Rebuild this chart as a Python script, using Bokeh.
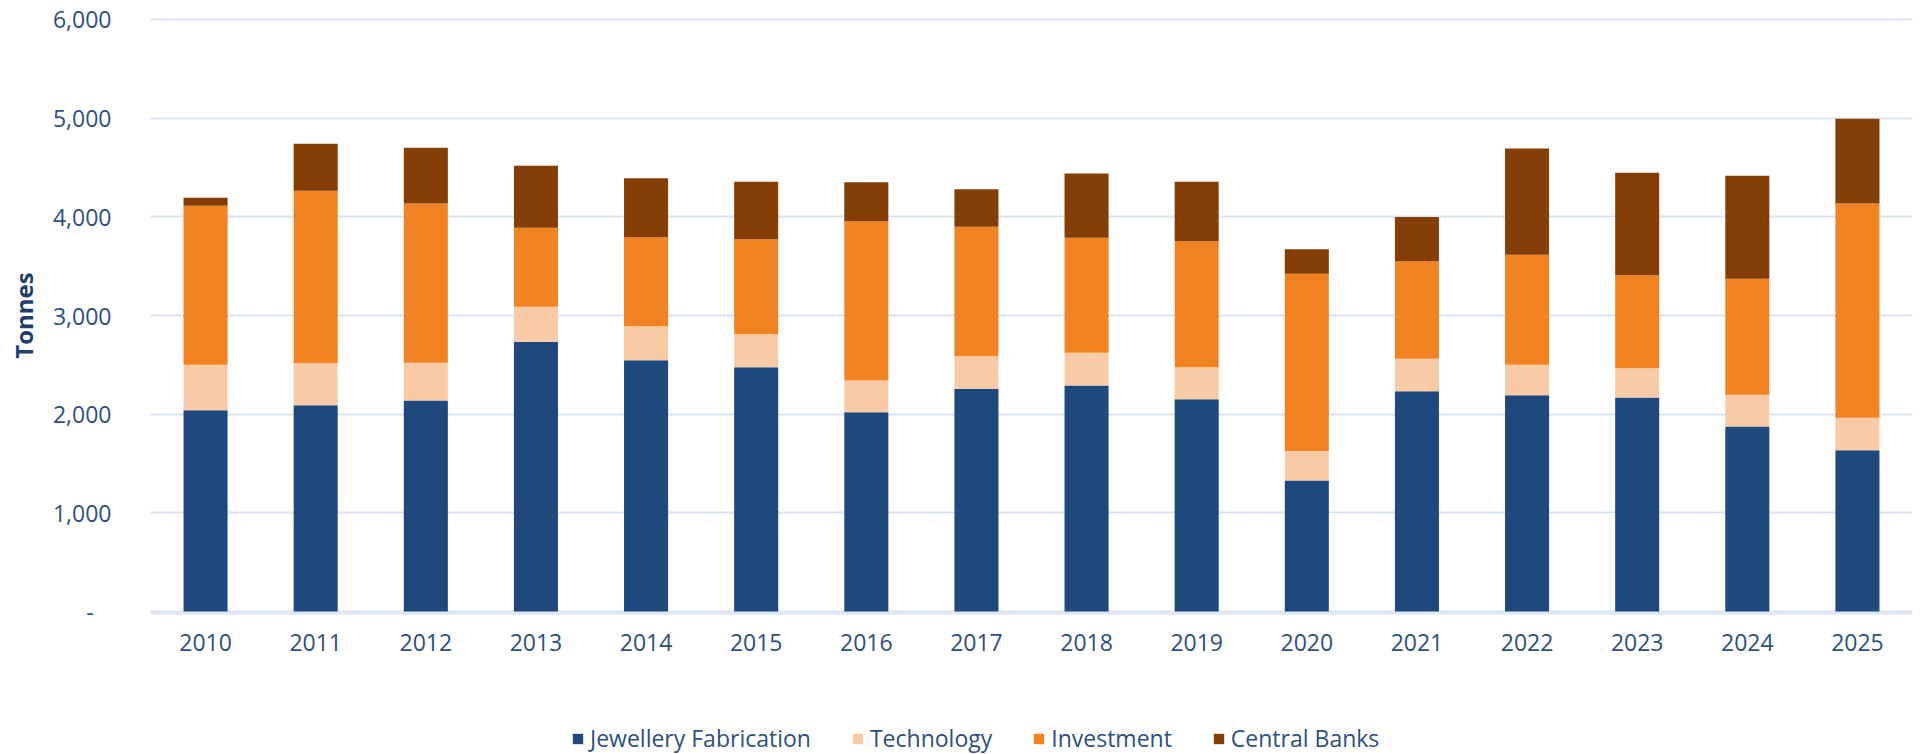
from bokeh.plotting import figure
from bokeh.layouts import column
from bokeh.models import ColumnDataSource, Legend, LegendItem, Range1d, FactorRange, FixedTicker
from bokeh.embed import file_html
from bokeh.resources import INLINE

years = ["2010", "2011", "2012", "2013", "2014", "2015", "2016", "2017",
         "2018", "2019", "2020", "2021", "2022", "2023", "2024", "2025"]

jewellery = [2041, 2091, 2139, 2733, 2547, 2476, 2020, 2257,
             2291, 2152, 1328, 2233, 2193, 2169, 1875, 1635]
technology = [459, 426, 381, 355, 345, 335, 321, 331,
              331, 324, 300, 328, 307, 297, 321, 328]
investment = [1611, 1747, 1615, 801, 902, 963, 1615, 1311,
              1165, 1277, 1794, 990, 1115, 943, 1176, 2172]
central_banks = [82, 476, 564, 628, 598, 581, 395, 381,
                 652, 602, 250, 446, 1078, 1037, 1044, 858]

series_names = ["Jewellery Fabrication", "Technology", "Investment", "Central Banks"]
series_keys = ["jewellery", "technology", "investment", "central_banks"]
colors = ["#1F497D", "#F8CBA6", "#F28323", "#843E06"]

y_ticks = [0, 1000, 2000, 3000, 4000, 5000, 6000]
y_tick_labels = ["-\u00a0\u00a0\u00a0", "1,000", "2,000", "3,000", "4,000", "5,000", "6,000"]

text_color = "#2D4F82"
grid_color = "#DAE4F2"
font = "Open Sans"
fsize = "23px"

source = ColumnDataSource(data=dict(
    year=years, jewellery=jewellery, technology=technology,
    investment=investment, central_banks=central_banks))

W = 1921
H_MAIN = 690
H_LEG = 64

p = figure(x_range=FactorRange(factors=years, range_padding=0),
           y_range=Range1d(-20, 6020),
           width=W, height=H_MAIN,
           min_border_left=150, min_border_right=9,
           min_border_top=17, min_border_bottom=77,
           output_backend="svg", toolbar_location=None)

renderers = p.vbar_stack(series_keys, x="year", width=0.4, color=colors,
                         line_color=None, source=source)

p.outline_line_color = None
p.background_fill_color = "white"
p.border_fill_color = "white"

p.xgrid.grid_line_color = None
p.ygrid.grid_line_color = grid_color
p.ygrid.grid_line_width = 2

p.yaxis.ticker = FixedTicker(ticks=y_ticks)
p.yaxis.major_label_overrides = {t: l for t, l in zip(y_ticks, y_tick_labels)}
p.yaxis.axis_line_color = None
p.yaxis.major_tick_line_color = None
p.yaxis.minor_tick_line_color = None
p.yaxis.major_label_standoff = 33
p.yaxis.major_label_text_font = font
p.yaxis.major_label_text_font_size = fsize
p.yaxis.major_label_text_color = text_color
p.yaxis.axis_label = "Tonnes"
p.yaxis.axis_label_text_font = font
p.yaxis.axis_label_text_font_style = "bold"
p.yaxis.axis_label_text_font_size = "24px"
p.yaxis.axis_label_text_color = "#1F3F6E"
p.yaxis.axis_label_standoff = 10

p.xaxis.axis_line_color = grid_color
p.xaxis.axis_line_width = 2
p.xaxis.major_tick_line_color = None
p.xaxis.minor_tick_line_color = None
p.xaxis.major_label_standoff = 14
p.xaxis.major_label_text_font = font
p.xaxis.major_label_text_font_size = fsize
p.xaxis.major_label_text_color = text_color

# legend strip below the chart
pl = figure(width=W, height=H_LEG, x_range=Range1d(0, 1), y_range=Range1d(0, 1),
            min_border=0, output_backend="svg", toolbar_location=None)
pl.axis.visible = False
pl.grid.visible = False
pl.outline_line_color = None
leg_renderers = [pl.vbar(x=[0.5], top=[0], bottom=[0], width=0, color=c, line_color=None)
                 for c in colors]
legend = Legend(
    items=[LegendItem(label=n, renderers=[r]) for n, r in zip(series_names, leg_renderers)],
    orientation="horizontal", location=(421, 0),
    border_line_color=None, background_fill_alpha=0,
    padding=0, margin=0, spacing=40, label_standoff=6,
    glyph_width=13, glyph_height=13,
    label_text_font=font, label_text_font_size=fsize,
    label_text_color=text_color)
pl.add_layout(legend)

layout = column(p, pl, spacing=0)
open("out.html", "w").write(file_html(layout, INLINE))
